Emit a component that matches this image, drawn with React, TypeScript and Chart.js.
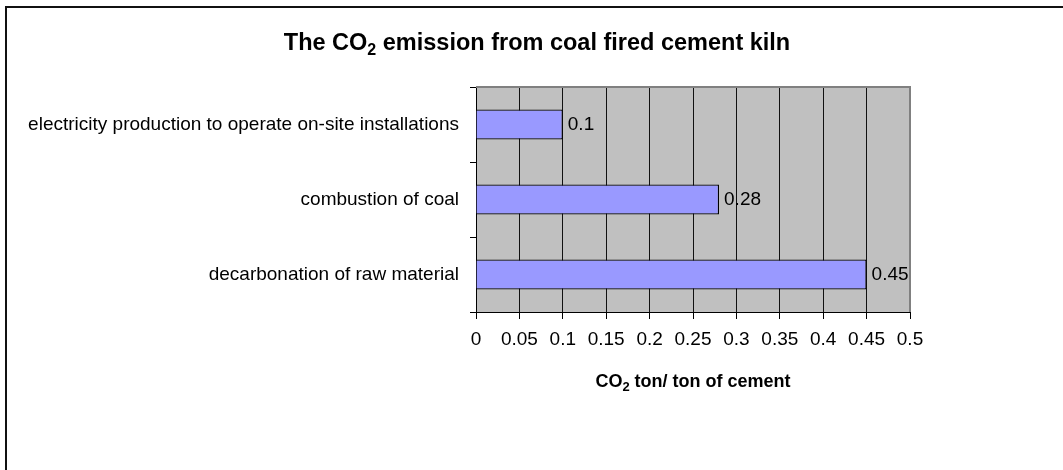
import React, { useEffect, useRef } from "react";
import { Chart, registerables } from "chart.js";

Chart.register(...registerables);

const categories = [
  "electricity production to operate on-site installations",
  "combustion of coal",
  "decarbonation of raw material",
];
const values = [0.1, 0.28, 0.45];
const xMin = 0;
const xMax = 0.5;
const xStep = 0.05;
const titleParts = [
  { t: "The CO", sub: false },
  { t: "2", sub: true },
  { t: " emission from coal fired cement kiln", sub: false },
];
const axisTitleParts = [
  { t: "CO", sub: false },
  { t: "2", sub: true },
  { t: " ton/ ton of cement", sub: false },
];

const FONT = "'Liberation Sans', Arial, sans-serif";

function drawParts(ctx: CanvasRenderingContext2D, parts: { t: string; sub: boolean }[], cx: number, cy: number, size: number) {
  const subSize = Math.round(size * 0.7);
  let total = 0;
  const widths = parts.map((p) => {
    ctx.font = `bold ${p.sub ? subSize : size}px ${FONT}`;
    const w = ctx.measureText(p.t).width;
    total += w;
    return w;
  });
  let x = cx - total / 2;
  ctx.textBaseline = "middle";
  ctx.textAlign = "left";
  ctx.fillStyle = "#000";
  parts.forEach((p, i) => {
    ctx.font = `bold ${p.sub ? subSize : size}px ${FONT}`;
    ctx.fillText(p.t, x, p.sub ? cy + size * 0.3 : cy);
    x += widths[i];
  });
}

const decorPlugin = {
  id: "decor",
  beforeDraw(chart: any) {
    const { ctx, chartArea } = chart;
    ctx.save();
    ctx.fillStyle = "#fff";
    ctx.fillRect(0, 0, chart.width, chart.height);
    ctx.fillStyle = "#C0C0C0";
    ctx.fillRect(chartArea.left, chartArea.top, chartArea.right - chartArea.left, chartArea.bottom - chartArea.top);
    ctx.restore();
  },
  afterDraw(chart: any) {
    const { ctx, chartArea } = chart;
    ctx.save();
    ctx.strokeStyle = "#808080";
    ctx.lineWidth = 2;
    ctx.beginPath();
    ctx.moveTo(chartArea.left, chartArea.top);
    ctx.lineTo(chartArea.right, chartArea.top);
    ctx.lineTo(chartArea.right, chartArea.bottom);
    ctx.stroke();
    ctx.strokeStyle = "#111";
    ctx.lineWidth = 2;
    ctx.beginPath();
    ctx.moveTo(6, chart.height);
    ctx.lineTo(6, 7);
    ctx.lineTo(chart.width, 7);
    ctx.stroke();
    drawParts(ctx, titleParts, 537, 44, 23.5);
    drawParts(ctx, axisTitleParts, (chartArea.left + chartArea.right) / 2, 382, 18);
    const meta = chart.getDatasetMeta(0);
    ctx.font = `19px ${FONT}`;
    ctx.fillStyle = "#000";
    ctx.textAlign = "left";
    ctx.textBaseline = "middle";
    meta.data.forEach((bar: any, i: number) => {
      ctx.fillText(String(values[i]), bar.x + 5, bar.y);
    });
    ctx.restore();
  },
};

export default function App() {
  const ref = useRef<HTMLCanvasElement>(null);
  useEffect(() => {
    const chart = new Chart(ref.current!, {
      type: "bar",
      data: {
        labels: categories,
        datasets: [
          {
            data: values,
            backgroundColor: "#9999FF",
            borderColor: "#000",
            borderWidth: 1.3,
            barPercentage: 0.4,
            categoryPercentage: 1,
          },
        ],
      },
      options: {
        indexAxis: "y",
        responsive: true,
        maintainAspectRatio: false,
        animation: false,
        events: [],
        layout: { padding: { left: 0, right: 153, top: 87, bottom: 0 } },
        plugins: { legend: { display: false }, title: { display: false }, tooltip: { enabled: false } },
        scales: {
          x: {
            type: "linear",
            min: xMin,
            max: xMax,
            afterFit: (s: any) => {
              s.height = 158;
            },
            ticks: {
              stepSize: xStep,
              color: "#000",
              font: { family: FONT, size: 19 },
              padding: 9,
              maxRotation: 0,
              autoSkip: false,
              callback: (v: any) => String(Number(Number(v).toFixed(2))),
            },
            grid: {
              color: (c: any) => (c.index === 10 ? "rgba(0,0,0,0)" : "#111"),
              lineWidth: 1,
              tickLength: 7,
              tickColor: "#000",
            },
            border: { display: true, color: "#000", width: 1 },
          },
          y: {
            type: "category",
            afterFit: (s: any) => {
              s.width = 476;
            },
            ticks: {
              color: "#000",
              font: { family: FONT, size: 19 },
              padding: 11,
            },
            grid: {
              offset: true,
              drawOnChartArea: false,
              tickLength: 6,
              color: "#000",
            },
            border: { display: true, color: "#000", width: 1 },
          },
        },
      },
      plugins: [decorPlugin],
    } as any);
    return () => chart.destroy();
  }, []);
  return (
    <div style={{ position: "fixed", left: 0, top: 0, width: 1063, height: 470, background: "#fff" }}>
      <canvas ref={ref} />
    </div>
  );
}
